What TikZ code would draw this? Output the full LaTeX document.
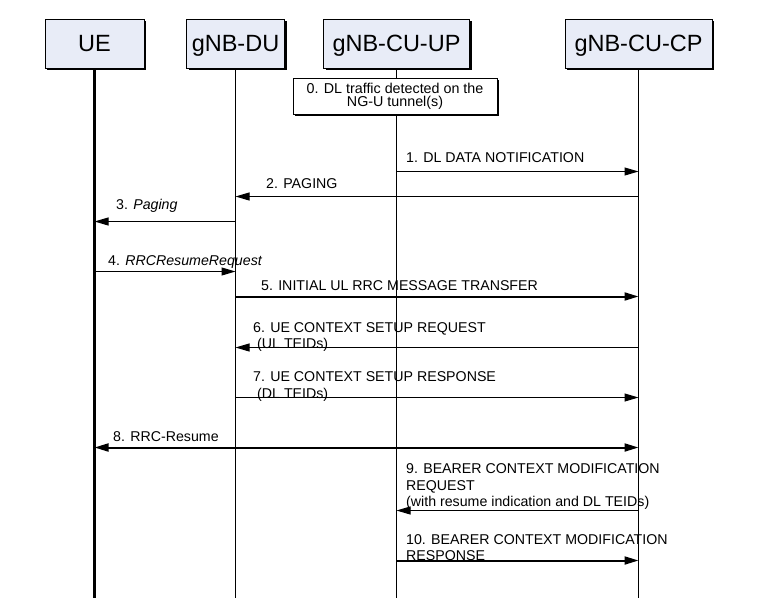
\documentclass[tikz,border=0pt]{standalone}
\usepackage{fontspec}
\setmainfont{Liberation Sans}
\usetikzlibrary{positioning,arrows.meta,shadows}
\definecolor{eFill}{HTML}{E8ECF7}
\tikzset{
  entity/.style={draw, line width=0.9pt, fill=eFill, minimum height=49pt,
                 inner sep=0pt, text height=16.8pt, text depth=0pt,
                 font=\fontsize{23.5}{28}\selectfont,
                 drop shadow={shadow xshift=2pt, shadow yshift=-2pt,
                              fill=black, opacity=1}},
  event/.style={draw, line width=0.9pt, fill=white, minimum width=204pt,
                minimum height=36pt, inner sep=0pt, align=center,
                font=\fontsize{14.3}{13}\selectfont,
                drop shadow={shadow xshift=2pt, shadow yshift=-2pt,
                             fill=black, opacity=1}},
  life/.style={line width=1pt},
  uelife/.style={line width=2.2pt},
  msg/.style={-{Triangle[length=14pt, width=8pt]}, line width=1pt},
  bmsg/.style={msg, line width=2pt},
  % message texts: anchored on the baseline of the (last) text line
  lbl/.style={anchor=base west, inner sep=0pt, align=left,
              font=\fontsize{14.2}{16.5}\selectfont},
}

\begin{document}
\begin{tikzpicture}[x=1pt, y=-1pt]
\useasboundingbox (0,0) rectangle (762,613);

%% ── the four entities and their lifelines ─────────────────────────────────
\node[entity, minimum width=99pt]  (ue)   at (94.5,43.5)  {UE};
\node[entity, minimum width=98pt]  (du)   at (235.5,43.5) {gNB-DU};
\node[entity, minimum width=146pt] (cuup) at (396.5,43.5) {gNB-CU-UP};
\node[entity, minimum width=147pt] (cucp) at (638.5,43.5) {gNB-CU-CP};

\coordinate (bot) at (0,598);
\draw[uelife] (ue.south)   -- (ue.south |- bot);
\draw[life]   (du.south)   -- (du.south |- bot);
\draw[life]   (cuup.south) -- (cuup.south |- bot);
\draw[life]   (cucp.south) -- (cucp.south |- bot);

\node[event] (dl) at (395,96) {0. DL traffic detected on the\\NG-U tunnel(s)};

%% ── message rows ──────────────────────────────────────────────────────────
\coordinate (m1)  at (0,171.5);
\coordinate (m2)  at (0,196.5);
\coordinate (m3)  at (0,221.5);
\coordinate (m4)  at (0,271.5);
\coordinate (m5)  at (0,296.5);
\coordinate (m6)  at (0,347.5);
\coordinate (m7)  at (0,397.5);
\coordinate (m8)  at (0,447.5);
\coordinate (m9)  at (0,510.5);
\coordinate (m10) at (0,560.5);

\draw[msg]  (cuup |- m1) -- (cucp |- m1);
\node[lbl] (l1) at (406,162) {1. DL DATA NOTIFICATION};

\draw[msg]  (cucp |- m2) -- (du |- m2);
\node[lbl] (l2) at (266,188.5) {2. PAGING};

\draw[msg]  (du |- m3) -- (ue |- m3);
\node[lbl] (l3) at (116,209.5) {3. \textit{Paging}};

\draw[msg]  (ue |- m4) -- (du |- m4);
\node[lbl] (l4) at (108,265) {4. \textit{RRCResumeRequest}};

\draw[bmsg] (du |- m5) -- (cucp |- m5);
\node[lbl] (l5) at (261,290) {5. INITIAL UL RRC MESSAGE TRANSFER};

\draw[msg]  (cucp |- m6) -- (du |- m6);
\node[lbl] (l6) at (253,348.5)
  {6. UE CONTEXT SETUP REQUEST\\\hspace*{4pt}(UL TEIDs)};

\draw[msg]  (du |- m7) -- (cucp |- m7);
\node[lbl] (l7) at (253,398)
  {7. UE CONTEXT SETUP RESPONSE\\\hspace*{4pt}(DL TEIDs)};

\draw[bmsg, {Triangle[length=14pt, width=8pt]}-{Triangle[length=14pt, width=8pt]}]
  (ue |- m8) -- (cucp |- m8);
\node[lbl] (l8) at (113,441) {8. RRC-Resume};

\draw[msg]  (cucp |- m9) -- (cuup |- m9);
\node[lbl] (l9) at (406,506.5)
  {9. BEARER CONTEXT MODIFICATION\\REQUEST\\(with resume indication and DL TEIDs)};

\draw[bmsg] (cuup |- m10) -- (cucp |- m10);
\node[lbl] (l10) at (406,560.5)
  {10. BEARER CONTEXT MODIFICATION\\RESPONSE};

\end{tikzpicture}
\end{document}
